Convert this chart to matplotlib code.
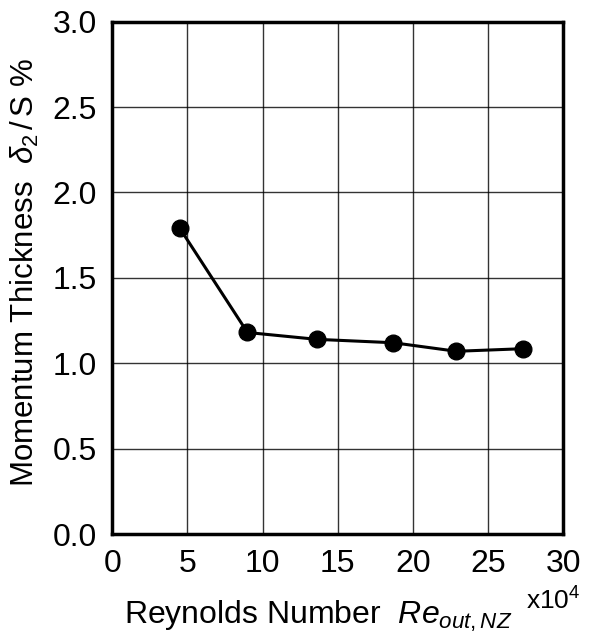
import numpy as np
import matplotlib
matplotlib.use("Agg")
import matplotlib.pyplot as plt

plt.rcParams['font.family'] = ['Liberation Sans', 'DejaVu Sans']
plt.rcParams['mathtext.fontset'] = 'custom'
plt.rcParams['mathtext.rm'] = 'Liberation Sans'
plt.rcParams['mathtext.it'] = 'Liberation Sans:italic'

# data (Re in units of 1e4)
re_out = [4.5, 9.0, 13.6, 18.7, 22.9, 27.3]
delta2_s = [1.79, 1.18, 1.14, 1.12, 1.07, 1.085]

xticks = [0, 5, 10, 15, 20, 25, 30]
yticks = [0.0, 0.5, 1.0, 1.5, 2.0, 2.5, 3.0]

fig = plt.figure(figsize=(6.03, 6.38), dpi=100)
ax = fig.add_axes([0.186, 0.163, 0.748, 0.803])

ax.plot(re_out, delta2_s, color="black", lw=2.2, marker="o", ms=12, zorder=3)

ax.set_xlim(0, 30)
ax.set_ylim(0, 3.0)
ax.set_xticks(xticks)
ax.set_yticks(yticks)
ax.set_xticklabels([str(t) for t in xticks])
ax.set_yticklabels([f"{t:.1f}" for t in yticks])
ax.tick_params(length=0, labelsize=23, pad=11)
ax.grid(True, color="black", lw=1.0, alpha=0.8)
for s in ax.spines.values():
    s.set_linewidth(2.5)

ax.set_xlabel(r"Reynolds Number  $\mathit{Re}_{\mathit{out,NZ}}$", fontsize=23, va="center")
ax.xaxis.set_label_coords(0.456, -0.16)
ax.set_ylabel(r"Momentum Thickness  $\delta_2\,/\,$S %", fontsize=22.5, va="center")
ax.yaxis.set_label_coords(-0.193, 0.51)
fig.text(0.962, 0.044, r"x10$^4$", fontsize=19, ha="right", va="baseline")

fig.savefig("out.png", dpi=100)
